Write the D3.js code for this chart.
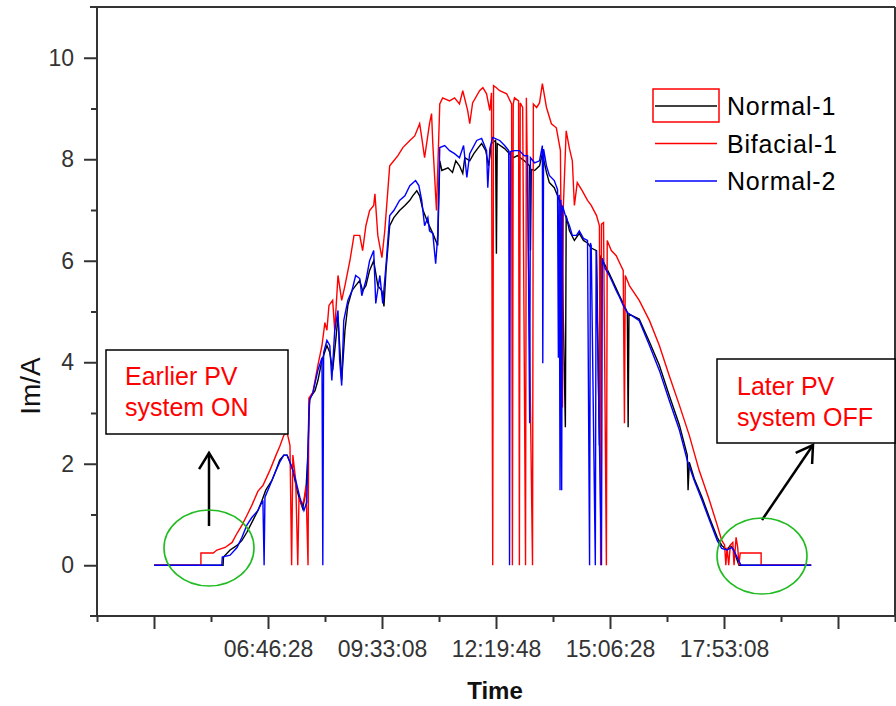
<!DOCTYPE html>
<html>
<head>
<meta charset="utf-8">
<script src="https://cdn.jsdelivr.net/npm/d3@7"></script>
<style>
  body { margin: 0; background: #fff; }
  svg { display: block; font-family: "Liberation Sans", Arial, sans-serif; }
</style>
</head>
<body>
<svg width="896" height="706"></svg>
<script>
// данные: [час, Im]
const normal1 = [
  [4.00,0],[5.68,0],[5.69,0.16],[5.85,0.30],[6.02,0.39],[6.14,0.49],[6.26,0.65],[6.41,0.89],[6.53,1.08],
  [6.63,1.28],[6.72,1.48],[6.87,1.67],[6.97,1.87],[7.06,2.07],[7.16,2.17],[7.24,2.17],[7.31,2.03],
  [7.38,1.87],[7.48,1.48],[7.55,1.28],[7.62,1.12],[7.70,1.48],[7.75,2.26],[7.79,3.29],[7.92,3.44],
  [7.99,3.64],[8.09,4.04],[8.21,4.33],[8.28,4.19],[8.35,3.84],[8.43,4.47],[8.48,4.90],[8.57,3.64],
  [8.65,4.63],[8.72,5.12],[8.82,5.41],[8.91,5.51],[9.01,5.61],[9.08,5.41],[9.16,5.51],[9.25,5.81],
  [9.35,6.00],[9.45,5.51],[9.55,5.41],[9.60,5.10],[9.65,5.81],[9.74,6.69],[9.84,6.85],[9.98,6.99],
  [10.11,7.09],[10.23,7.19],[10.30,7.28],[10.40,7.38],[10.47,7.28],[10.55,7.00],[10.67,6.75],
  [10.79,6.54],[10.86,6.40],[10.91,6.30],[10.96,7.97],[11.01,7.78],[11.16,7.83],[11.27,7.74],
  [11.35,7.97],[11.44,7.87],[11.52,7.72],[11.57,8.03],[11.69,7.97],[11.79,8.11],[11.88,8.21],
  [11.98,8.31],[12.08,8.17],[12.15,7.87],[12.22,8.31],[12.32,8.37],[12.34,6.14],[12.36,8.31],
  [12.54,8.21],[12.66,8.11],[12.76,8.03],[12.85,8.07],[13.02,7.97],[13.15,7.87],[13.17,6.20],
  [13.19,7.80],[13.27,7.78],[13.39,7.87],[13.46,8.11],[13.56,7.74],[13.63,7.54],[13.75,7.44],
  [13.83,7.28],[13.92,7.09],[14.02,2.72],[14.04,6.89],[14.12,6.59],[14.24,6.40],[14.36,6.54],
  [14.46,6.40],[14.56,6.35],[14.65,6.25],[14.78,6.20],[14.85,2.36],[14.87,6.10],[14.99,5.91],
  [15.09,5.75],[15.17,5.61],[15.26,5.45],[15.34,5.31],[15.43,5.16],[15.53,4.98],[15.55,2.72],
  [15.57,4.95],[15.82,4.85],[16.07,4.40],[16.31,3.94],[16.55,3.35],[16.80,2.76],[16.99,2.17],
  [17.01,1.48],[17.04,2.03],[17.16,1.71],[17.35,1.34],[17.53,0.94],[17.72,0.55],[17.83,0.39],
  [17.96,0.30],[18.04,0.39],[18.13,0.30],[18.18,0.16],[18.25,0],[20.01,0]
];

const bifacial1 = [
  [4.00,0],[5.14,0],[5.14,0.24],[5.44,0.24],[5.53,0.30],[5.73,0.35],[5.90,0.45],[6.02,0.63],[6.14,0.79],
  [6.26,0.98],[6.38,1.18],[6.53,1.46],[6.65,1.57],[6.82,1.87],[6.97,2.17],[7.06,2.34],[7.16,2.56],
  [7.24,2.62],[7.31,2.36],[7.35,0],[7.38,2.17],[7.45,1.67],[7.50,0],[7.53,1.34],[7.60,1.18],
  [7.65,1.28],[7.70,1.57],[7.75,0],[7.77,3.29],[7.87,3.41],[7.92,3.64],[7.99,3.94],[8.09,4.33],
  [8.16,4.78],[8.21,4.63],[8.26,5.12],[8.35,5.22],[8.40,4.63],[8.48,5.71],[8.57,5.22],[8.65,5.51],
  [8.77,6.00],[8.87,6.50],[9.01,6.50],[9.08,6.20],[9.16,6.69],[9.25,6.99],[9.35,7.09],[9.38,7.32],
  [9.45,6.50],[9.55,6.06],[9.62,6.59],[9.74,7.87],[9.84,7.97],[9.94,8.07],[10.06,8.23],[10.23,8.37],
  [10.35,8.46],[10.47,8.70],[10.52,8.43],[10.59,8.03],[10.71,8.70],[10.76,8.90],[10.79,8.31],
  [10.88,6.99],[10.96,9.09],[11.03,9.21],[11.20,9.15],[11.32,9.21],[11.44,9.09],[11.52,9.35],
  [11.64,8.96],[11.69,8.70],[11.76,9.11],[11.93,9.35],[12.01,9.41],[12.10,9.29],[12.18,8.96],
  [12.22,9.31],[12.25,0],[12.27,9.45],[12.34,9.41],[12.42,9.35],[12.59,9.29],[12.71,9.09],
  [12.73,0],[12.75,9.09],[12.78,9.21],[12.88,9.15],[12.90,0],[12.92,9.11],[12.98,9.02],[13.05,0],
  [13.07,9.21],[13.22,0],[13.24,9.09],[13.32,9.02],[13.39,9.11],[13.46,9.49],[13.56,9.02],
  [13.68,8.70],[13.80,8.62],[13.90,8.17],[13.95,3.11],[13.97,7.05],[14.04,8.56],[14.12,8.21],
  [14.19,7.97],[14.24,7.09],[14.31,7.54],[14.43,7.38],[14.56,7.19],[14.65,7.09],[14.78,6.89],
  [14.85,6.69],[14.88,0],[14.90,6.72],[14.95,6.75],[15.02,0],[15.04,6.40],[15.14,6.20],[15.26,6.10],
  [15.34,5.96],[15.43,5.81],[15.46,2.80],[15.48,5.71],[15.55,5.57],[15.58,5.51],[15.82,5.22],
  [16.07,4.82],[16.31,4.33],[16.55,3.74],[16.80,3.15],[17.04,2.56],[17.28,1.87],[17.53,1.28],
  [17.72,0.79],[17.83,0.49],[17.90,0.40],[17.93,0],[17.96,0.35],[18.00,0],[18.04,0.40],[18.10,0.45],
  [18.13,0],[18.18,0.55],[18.22,0.35],[18.25,0],[18.28,0.24],[18.33,0.24],[18.79,0.24],[18.79,0],
  [20.01,0]
];

const normal2 = [
  [4.00,0],[5.65,0],[5.66,0.16],[5.85,0.20],[6.02,0.35],[6.14,0.55],[6.26,0.79],[6.38,0.94],[6.53,1.08],
  [6.65,1.28],[6.68,0],[6.70,1.34],[6.82,1.57],[6.97,1.87],[7.06,2.03],[7.16,2.17],[7.24,2.17],
  [7.31,2.03],[7.38,1.87],[7.45,1.67],[7.55,1.34],[7.65,1.08],[7.72,1.24],[7.77,3.05],[7.79,3.25],
  [7.87,3.41],[7.99,3.84],[8.09,4.09],[8.11,0],[8.13,4.19],[8.21,4.43],[8.28,4.33],[8.33,3.64],
  [8.40,4.63],[8.48,5.02],[8.52,4.04],[8.57,3.54],[8.62,4.82],[8.72,5.22],[8.82,5.41],[8.91,5.71],
  [9.01,5.65],[9.06,5.31],[9.16,5.61],[9.25,6.00],[9.35,6.20],[9.40,5.16],[9.50,5.71],[9.57,5.16],
  [9.65,5.91],[9.74,6.89],[9.84,6.99],[9.98,7.19],[10.11,7.28],[10.23,7.48],[10.37,7.58],[10.45,7.48],
  [10.52,7.19],[10.59,6.69],[10.67,6.85],[10.71,6.59],[10.79,6.54],[10.86,5.94],[10.91,6.50],
  [10.96,8.23],[11.08,8.27],[11.20,8.17],[11.32,8.11],[11.44,8.03],[11.54,8.27],[11.62,7.64],
  [11.69,8.11],[11.86,8.37],[11.98,8.41],[12.10,8.17],[12.13,7.44],[12.18,8.21],[12.25,8.43],
  [12.42,8.37],[12.54,8.27],[12.64,8.17],[12.66,0],[12.68,8.15],[12.78,8.17],[12.90,8.17],
  [13.02,8.07],[13.10,8.07],[13.15,2.80],[13.17,8.03],[13.27,7.93],[13.39,7.97],[13.46,8.27],
  [13.47,3.98],[13.49,8.20],[13.56,7.87],[13.63,7.68],[13.75,7.58],[13.83,7.40],[13.85,4.09],
  [13.87,7.30],[13.89,1.48],[13.91,7.20],[13.93,1.48],[13.95,7.09],[14.02,6.89],[14.12,6.69],
  [14.19,6.50],[14.29,6.50],[14.36,6.59],[14.46,6.44],[14.56,6.40],[14.61,0],[14.63,6.35],
  [14.65,6.30],[14.75,0],[14.77,6.20],[14.90,0],[14.92,6.05],[14.99,5.85],[15.09,5.71],[15.17,5.57],
  [15.26,5.41],[15.34,5.28],[15.43,5.12],[15.53,4.98],[15.82,4.82],[16.07,4.33],[16.31,3.84],
  [16.55,3.25],[16.80,2.66],[16.99,2.07],[17.16,1.67],[17.35,1.28],[17.53,0.89],[17.72,0.49],
  [17.83,0.33],[17.96,0.30],[18.08,0.35],[18.18,0.20],[18.30,0],[20.01,0]
];

const seriesNames = ["Normal-1", "Bifacial-1", "Normal-2"];
const seriesColors = ["#000000", "#ff0000", "#0000ff"];

// деления осей
const yMajor = [0, 2, 4, 6, 8, 10];
const yMinor = [1, 3, 5, 7, 9];
const xMajor = [14388, 24388, 34388, 44388, 54388, 64388, 74388]; // секунды
const xMajorLabels = ["", "06:46:28", "09:33:08", "12:19:48", "15:06:28", "17:53:08", ""];
const xMinor = [9388, 19388, 29388, 39388, 49388, 59388, 69388, 79388];

const noteLeft = ["Earlier PV", "system ON"];
const noteRight = ["Later PV", "system OFF"];

const svg = d3.select("svg");

const area = { left: 97, right: 895, top: 7, bottom: 616 };

const scX = d3.scaleLinear().domain([9388, 79388]).range([area.left, area.right]);
const scY = d3.scaleLinear().domain([-1, 11]).range([area.bottom, area.top]);

// рамка
const frame = svg.append("g").attr("stroke", "#333").attr("stroke-width", 2).attr("fill", "none");
frame.append("line").attr("x1", 90).attr("x2", area.right).attr("y1", area.top).attr("y2", area.top);
frame.append("line").attr("x1", area.right).attr("x2", area.right).attr("y1", area.top).attr("y2", area.bottom);
frame.append("line").attr("x1", 90).attr("x2", area.right).attr("y1", area.bottom).attr("y2", area.bottom);
frame.append("line").attr("x1", area.left).attr("x2", area.left).attr("y1", area.top).attr("y2", area.bottom);

function styleAxis(g) {
  g.select(".domain").remove();
  g.selectAll(".tick line").attr("stroke", "#333").attr("stroke-width", 2);
  g.selectAll(".tick text")
    .attr("fill", "#333")
    .style("font-size", "23px")
    .style("font-family", "'Liberation Sans', Arial, sans-serif");
}

// ось X
svg.append("g")
  .attr("transform", `translate(0, ${area.bottom})`)
  .call(d3.axisBottom(scX).tickValues(xMinor).tickSize(6).tickFormat(""))
  .call(styleAxis);
svg.append("g")
  .attr("transform", `translate(0, ${area.bottom})`)
  .call(d3.axisBottom(scX).tickValues(xMajor).tickSize(13).tickPadding(12)
        .tickFormat((d, i) => xMajorLabels[i]))
  .call(styleAxis);

// ось Y
svg.append("g")
  .attr("transform", `translate(${area.left}, 0)`)
  .call(d3.axisLeft(scY).tickValues(yMinor).tickSize(6).tickFormat(""))
  .call(styleAxis);
svg.append("g")
  .attr("transform", `translate(${area.left}, 0)`)
  .call(d3.axisLeft(scY).tickValues(yMajor).tickSize(13).tickPadding(10).tickFormat(d3.format("d")))
  .call(styleAxis);

// подписи осей
svg.append("text")
  .attr("x", 495).attr("y", 699)
  .attr("text-anchor", "middle")
  .style("font-size", "24px").style("font-weight", "bold")
  .attr("fill", "#111")
  .text("Time");

svg.append("text")
  .attr("transform", "translate(40, 386) rotate(-90)")
  .attr("text-anchor", "middle")
  .style("font-size", "28px")
  .attr("fill", "#111")
  .text("Im/A");

// линии
const line = d3.line()
  .x(d => scX(d[0] * 3600))
  .y(d => scY(d[1]));

[normal1, bifacial1, normal2].forEach((data, i) => {
  svg.append("path")
    .datum(data)
    .attr("fill", "none")
    .attr("stroke", seriesColors[i])
    .attr("stroke-width", 1.4)
    .attr("stroke-linejoin", "miter")
    .attr("d", line);
});

// легенда
const legend = svg.append("g");
seriesNames.forEach((name, i) => {
  const ly = 106 + i * 37.5;
  legend.append("line")
    .attr("x1", 655).attr("x2", 717).attr("y1", ly).attr("y2", ly)
    .attr("stroke", seriesColors[i]).attr("stroke-width", 1.5);
  legend.append("text")
    .attr("x", 727).attr("y", ly + 9)
    .style("font-size", "25px")
    .style("letter-spacing", "0.8px")
    .attr("fill", "#000")
    .text(name);
});
legend.append("rect")
  .attr("x", 653).attr("y", 89).attr("width", 66).attr("height", 33)
  .attr("fill", "none").attr("stroke", "#ff0000").attr("stroke-width", 1.5);

// аннотации
function note(x, y, w, h, lines, tx, ty) {
  svg.append("rect")
    .attr("x", x).attr("y", y).attr("width", w).attr("height", h)
    .attr("fill", "#fff").attr("stroke", "#000").attr("stroke-width", 1.5);
  lines.forEach((t, i) => {
    svg.append("text")
      .attr("x", tx).attr("y", ty + i * 31)
      .style("font-size", "25px")
      .attr("fill", "#ff0000")
      .text(t);
  });
}
note(106, 350, 182, 84, noteLeft, 125, 385);
note(717, 359, 178, 84, noteRight, 737, 395);

function arrow(x1, y1, x2, y2) {
  const g = svg.append("g").attr("stroke", "#000").attr("stroke-width", 2.5).attr("fill", "none");
  g.append("line").attr("x1", x1).attr("y1", y1).attr("x2", x2).attr("y2", y2);
  const a = Math.atan2(y2 - y1, x2 - x1);
  const L = 19, sp = 0.55;
  g.append("path").attr("d",
    `M${x2 - L * Math.cos(a - sp)},${y2 - L * Math.sin(a - sp)} L${x2},${y2} L${x2 - L * Math.cos(a + sp)},${y2 - L * Math.sin(a + sp)}`);
}
arrow(209, 526, 209, 453);
arrow(762, 520, 813, 445);

svg.append("ellipse")
  .attr("cx", 209).attr("cy", 548).attr("rx", 45).attr("ry", 38)
  .attr("fill", "none").attr("stroke", "#22bb22").attr("stroke-width", 1.6);
svg.append("ellipse")
  .attr("cx", 762).attr("cy", 556).attr("rx", 45).attr("ry", 38)
  .attr("fill", "none").attr("stroke", "#22bb22").attr("stroke-width", 1.6);
</script>
</body>
</html>
